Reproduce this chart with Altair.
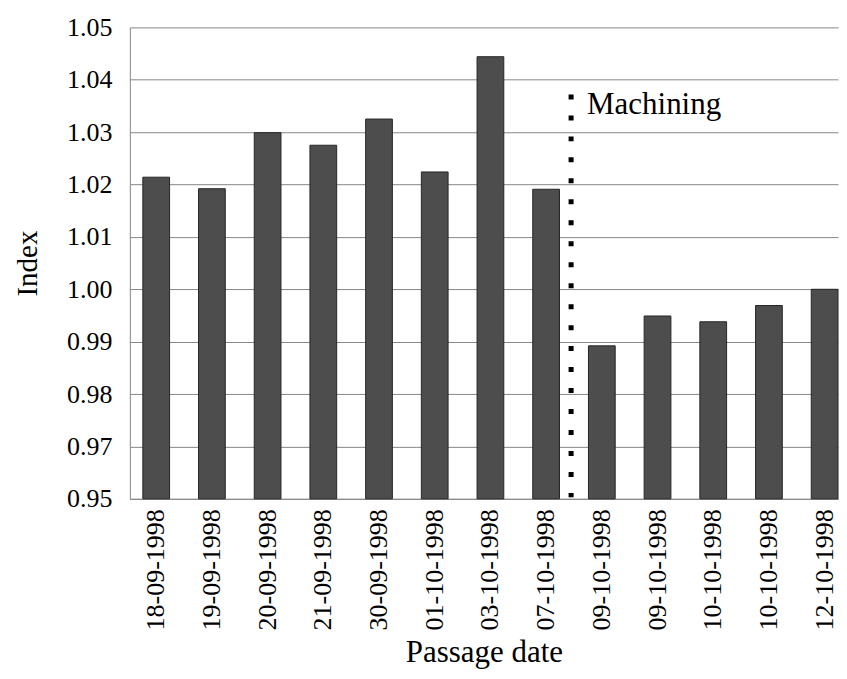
import altair as alt
import pandas as pd

dates = ["18-09-1998", "19-09-1998", "20-09-1998", "21-09-1998", "30-09-1998",
         "01-10-1998", "03-10-1998", "07-10-1998", "09-10-1998", "09-10-1998",
         "10-10-1998", "10-10-1998", "12-10-1998"]
values = [1.0214, 1.0192, 1.0299, 1.0275, 1.0325, 1.0224, 1.0444, 1.0191,
          0.9892, 0.9949, 0.9938, 0.9969, 1.0000]
y_ticks = [0.96, 0.97, 0.98, 0.99, 1.00, 1.01, 1.02, 1.03, 1.04, 1.05]
y_base = 0.96
marker_after = "07-10-1998"
marker_label = "Machining"
marker_top = 1.0372
marker_bottom = 0.9603
marker_text_y = 1.0352

keys = [f"{i:02d}|{d}" for i, d in enumerate(dates)]
df = pd.DataFrame({"key": keys, "date": dates, "value": values})
marker_key = keys[dates.index(marker_after)]
mk = pd.DataFrame({"key": [marker_key], "top": [marker_top], "bottom": [marker_bottom],
                   "ty": [marker_text_y], "label": [marker_label]})

FONT = "Liberation Serif"

xscale = alt.Scale(domain=keys, paddingInner=0.52, paddingOuter=0.1165, align=1)
yscale = alt.Scale(domain=[0.96, 1.05], zero=False, nice=False)

bars = alt.Chart(df).mark_bar(color="#4d4d4d", stroke="#262626", strokeWidth=1).encode(
    x=alt.X("key:N", scale=xscale, sort=None,
            axis=alt.Axis(title="Passage date", labelAngle=-90, ticks=False,
                          labelPadding=10, labelFontSize=26, labelFont=FONT,
                          labelColor="black", titleFontSize=31, titleFont=FONT,
                          titleFontWeight="normal", titleColor="black", titlePadding=8,
                          labelExpr="split(datum.label, '|')[1]",
                          domainColor="#878787", grid=False)),
    y=alt.Y("value:Q", scale=yscale,
            axis=alt.Axis(title="Index", values=y_ticks, ticks=False, labelPadding=18,
                          labelFontSize=26, labelColor="black", labelFont=FONT,
                          labelExpr="datum.value < 0.965 ? '0.95' : format(datum.value, '.2f')",
                          titleFontSize=29, titleFontWeight="normal", titleFont=FONT,
                          titleColor="black", titlePadding=24, gridColor="#878787",
                          domainColor="#878787")),
    y2=alt.datum(y_base),
)

rule = alt.Chart(mk).mark_rule(color="black", strokeWidth=5, strokeDash=[5, 16],
                               strokeCap="butt", xOffset=25).encode(
    x=alt.X("key:N", scale=xscale, sort=None),
    y=alt.Y("top:Q", scale=yscale),
    y2="bottom:Q",
)

text = alt.Chart(mk).mark_text(align="left", baseline="middle", fontSize=31, font=FONT,
                               color="black", dx=41).encode(
    x=alt.X("key:N", scale=xscale, sort=None),
    y=alt.Y("ty:Q", scale=yscale),
    text="label:N",
)

chart = alt.layer(bars, rule, text).properties(
    width=709, height=472, background="white",
    padding={"left": 5, "top": 6, "right": 0, "bottom": 5},
).configure_view(stroke=None)

chart.save("out.html", embed_options={"renderer": "svg", "actions": False})
